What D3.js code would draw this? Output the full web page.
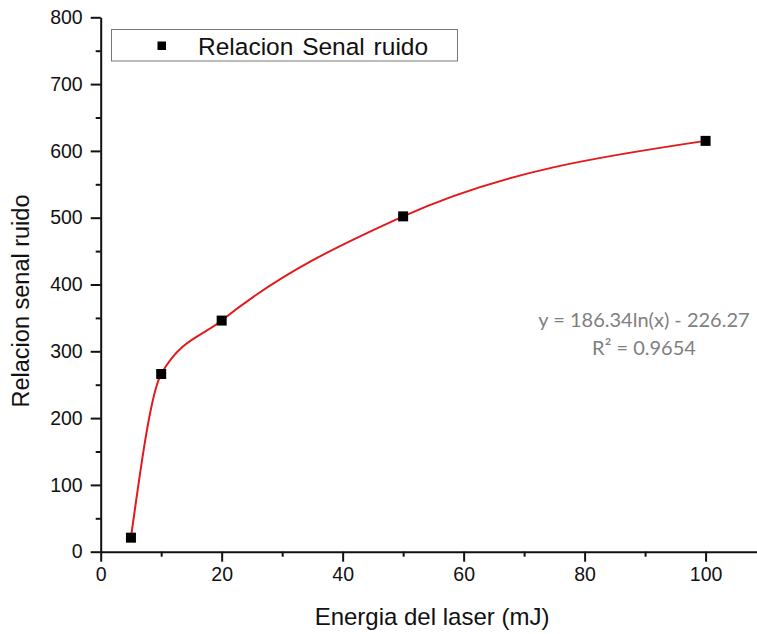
<!DOCTYPE html>
<html>
<head>
<meta charset="utf-8">
<script src="https://cdn.jsdelivr.net/npm/d3@7"></script>
<style>
  html, body { margin: 0; padding: 0; background: #fff; }
  svg { display: block; }
</style>
</head>
<body>
<svg id="chart" width="757" height="634"></svg>
<script>
// Laser energy (mJ) and measured signal-to-noise ratio
const energia = [5, 10, 20, 50, 100];
const relacion = [21, 266, 346, 502, 615];

const xMajor = [0, 20, 40, 60, 80, 100];
const xMinor = [10, 30, 50, 70, 90];
const yMajor = [0, 100, 200, 300, 400, 500, 600, 700, 800];
const yMinor = [50, 150, 250, 350, 450, 550, 650, 750];

const legendLabel = "Relacion Senal ruido";
const xTitle = "Energia del laser (mJ)";
const yTitle = "Relacion senal ruido";
const fitLines = ["y = 186.34ln(x) - 226.27", "R\u00b2 = 0.9654"];

const svg = d3.select("#chart");
const font = "'Liberation Sans', Arial, sans-serif";

const x = d3.scaleLinear().domain([0, 108.5]).range([100.7, 757]);
const y = d3.scaleLinear().domain([0, 800]).range([551.7, 17.3]);

// axes
function styleAxis(g) {
  g.select(".domain").attr("stroke", "#111").attr("stroke-width", 2);
  g.selectAll(".tick line").attr("stroke", "#111").attr("stroke-width", 2);
  g.selectAll(".tick text").attr("fill", "#111")
    .style("font-family", font).style("font-size", "19.5px");
}

const xAxisG = svg.append("g").attr("transform", `translate(0,${y(0)})`)
  .call(d3.axisBottom(x).tickValues(xMajor).tickSize(10).tickPadding(5).tickSizeOuter(0));
styleAxis(xAxisG);
svg.append("g").attr("transform", `translate(0,${y(0)})`)
  .call(d3.axisBottom(x).tickValues(xMinor).tickSize(5).tickFormat("").tickSizeOuter(0))
  .call(g => { g.select(".domain").remove(); styleAxis(g); });

const yAxisG = svg.append("g").attr("transform", `translate(${x(0)},0)`)
  .call(d3.axisLeft(y).tickValues(yMajor).tickSize(10).tickPadding(8).tickSizeOuter(0));
styleAxis(yAxisG);
svg.append("g").attr("transform", `translate(${x(0)},0)`)
  .call(d3.axisLeft(y).tickValues(yMinor).tickSize(5).tickFormat("").tickSizeOuter(0))
  .call(g => { g.select(".domain").remove(); styleAxis(g); });

// axis titles
svg.append("text")
  .attr("x", 432).attr("y", 625)
  .attr("text-anchor", "middle")
  .style("font-family", font).style("font-size", "24px").attr("fill", "#111")
  .text(xTitle);

svg.append("text")
  .attr("transform", "translate(29,301) rotate(-90)")
  .attr("text-anchor", "middle")
  .style("font-family", font).style("font-size", "23.5px").attr("fill", "#111")
  .text(yTitle);

// interpolated curve through the measurements
const pts = energia.map((e, i) => [e, relacion[i]]);
const line = d3.line().x(d => x(d[0])).y(d => y(d[1])).curve(d3.curveMonotoneX);
svg.append("path")
  .attr("d", line(pts))
  .attr("fill", "none")
  .attr("stroke", "#e3191c")
  .attr("stroke-width", 2);

// markers
const ms = 10;
svg.append("g").selectAll("rect").data(pts).join("rect")
  .attr("x", d => x(d[0]) - ms / 2)
  .attr("y", d => y(d[1]) - ms / 2)
  .attr("width", ms).attr("height", ms)
  .attr("fill", "#000");

// legend
const lg = svg.append("g");
lg.append("rect")
  .attr("x", 111.5).attr("y", 29.5).attr("width", 346).attr("height", 31.5)
  .attr("fill", "#fff").attr("stroke", "#777").attr("stroke-width", 1);
lg.append("rect")
  .attr("x", 157.5).attr("y", 41.5).attr("width", 8.5).attr("height", 8.5)
  .attr("fill", "#000");
lg.append("text")
  .attr("x", 198).attr("y", 55)
  .style("font-family", font).style("font-size", "24.5px")
  .style("word-spacing", "2px").attr("fill", "#111")
  .text(legendLabel);

// fit equation
svg.append("g").selectAll("text").data(fitLines).join("text")
  .attr("x", 644)
  .attr("y", (d, i) => 327 + i * 28)
  .attr("text-anchor", "middle")
  .style("font-family", "Lato, 'Open Sans', sans-serif")
  .style("font-size", "20px")
  .attr("fill", "#7f7f7f")
  .text(d => d);
</script>
</body>
</html>
